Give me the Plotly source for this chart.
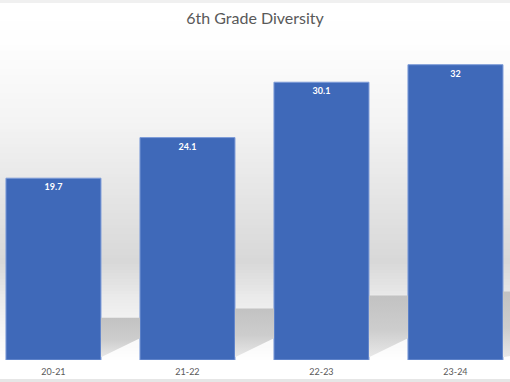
import plotly.graph_objects as go

# ---- data ----
categories = ["20-21", "21-22", "22-23", "23-24"]
values = [19.7, 24.1, 30.1, 32]
labels = ["19.7", "24.1", "30.1", "32"]
title_text = "6th Grade Diversity"

# ---- geometry / style constants ----
W, H = 510, 382
M_T, M_B = 37, 22
PLOT_H = H - M_T - M_B
Y_MAX = 35
BAR_W = 0.709
X_RANGE = [-0.399, 3.407]
PX_PER_X = W / (X_RANGE[1] - X_RANGE[0])
PX_PER_Y = PLOT_H / Y_MAX
SHADOW_FRAC = 0.232
SHADOW_SLOPE = 0.56

xpos = list(range(len(categories)))


def py(p):
    """pixel row (from top) -> paper y"""
    return (H - M_B - p) / PLOT_H


def lerp(c1, c2, t):
    return tuple(round(a + (b - a) * t) for a, b in zip(c1, c2))


# background gradient stops (pixel row, rgb)
stops = [
    (0, (255, 255, 255)),
    (40, (254, 254, 254)),
    (120, (244, 244, 244)),
    (262, (216, 216, 216)),
    (300, (236, 236, 236)),
    (320, (242, 242, 242)),
    (345, (250, 250, 250)),
    (362, (255, 255, 255)),
    (382, (255, 255, 255)),
]

shapes = []
step = 3
for p in range(0, H, step):
    mid = p + step / 2
    for (a, ca), (b, cb) in zip(stops[:-1], stops[1:]):
        if a <= mid <= b:
            c = lerp(ca, cb, (mid - a) / (b - a))
            break
    shapes.append(dict(type="rect", xref="paper", yref="paper",
                       x0=0, x1=1, y0=py(p + step), y1=py(p),
                       fillcolor="rgb(%d,%d,%d)" % c, line_width=0, layer="below"))
# top strip and bottom line
shapes.append(dict(type="rect", xref="paper", yref="paper", x0=0, x1=1,
                   y0=py(3), y1=py(0), fillcolor="#f0f0f0", line_width=0, layer="below"))
shapes.append(dict(type="rect", xref="paper", yref="paper", x0=0, x1=1,
                   y0=py(382), y1=py(379), fillcolor="#e6e6e6", line_width=0, layer="below"))

fig = go.Figure()

# floor shadows behind each bar (derived from the values)
for i, v in enumerate(values):
    hs = SHADOW_FRAC * v                     # shadow height (data units)
    dx = hs * PX_PER_Y / SHADOW_SLOPE / PX_PER_X  # horizontal reach (x units)
    xr = xpos[i] + BAR_W / 2
    xn = xpos[i + 1] - BAR_W / 2 if i + 1 < len(values) else X_RANGE[1]
    if xr + dx > xn:
        ycut = hs * (xn - xr) / dx
        sx = [xr, xr, xn, xn, xr]
        sy = [0.3, hs, hs, ycut, 0.3]
    else:
        sx = [xr, xr, xr + dx, xr]
        sy = [0.3, hs, hs, 0.3]
    fig.add_trace(go.Scatter(
        x=sx, y=sy, mode="lines", fill="toself", line=dict(width=0),
        fillgradient=dict(type="vertical",
                          colorscale=[[0, "rgb(232,232,232)"], [0.45, "rgb(205,205,205)"],
                                      [1, "rgb(194,194,194)"]]),
        hoverinfo="skip", showlegend=False))

fig.add_trace(go.Bar(
    x=xpos, y=values, width=BAR_W,
    marker=dict(color="#3f69b9", line=dict(color="#7d9cd8", width=1)),
    text=labels, textposition="inside", insidetextanchor="end",
    textangle=0,
    textfont=dict(family="Lato", size=9, color="white", weight="bold"),
    showlegend=False, hoverinfo="skip"))

fig.update_layout(
    width=W, height=H,
    margin=dict(l=0, r=0, t=M_T, b=M_B, pad=0),
    paper_bgcolor="white",
    plot_bgcolor="rgba(0,0,0,0)",
    shapes=shapes,
    title=dict(text=title_text, x=0.5, xanchor="center", y=1 - 18 / H, yanchor="middle",
               font=dict(family="Lato", size=16, color="#595959")),
    xaxis=dict(range=X_RANGE, tickvals=xpos, ticktext=categories, showgrid=False,
               zeroline=False, showline=False, ticks="", ticklen=0,
               ticklabelstandoff=5,
               tickfont=dict(family="Lato", size=9, color="#595959")),
    yaxis=dict(range=[0, Y_MAX], visible=False, showgrid=False, zeroline=False),
    bargap=0,
)

fig.write_html("out.html", config={"displayModeBar": False, "staticPlot": True},
               post_script="document.body.style.margin='0';document.body.style.overflow='hidden';")
